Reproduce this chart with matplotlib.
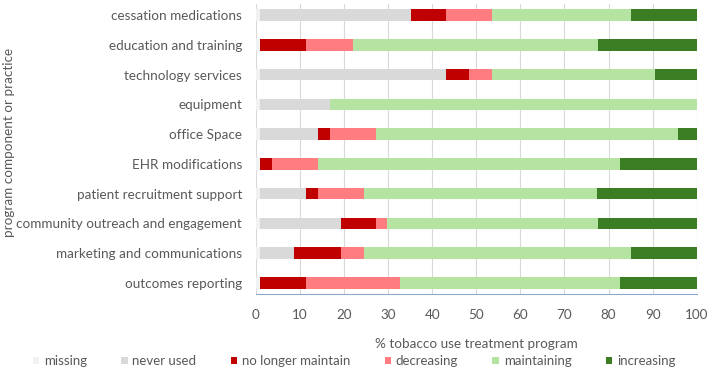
import matplotlib
matplotlib.use("Agg")
import matplotlib.pyplot as plt
import numpy as np

plt.rcParams['font.family'] = ['Lato', 'DejaVu Sans']

categories = ["cessation medications", "education and training", "technology services",
              "equipment", "office Space", "EHR modifications", "patient recruitment support",
              "community outreach and engagement", "marketing and communications",
              "outcomes reporting"]
series_names = ["missing", "never used", "no longer maintain", "decreasing", "maintaining", "increasing"]

missing        = [1.0, 1.0, 1.0, 1.0, 1.0, 1.0, 1.0, 1.0, 1.0, 1.0]
never_used     = [34.2, 0.0, 42.1, 15.8, 13.1, 0.0, 10.3, 18.2, 7.7, 0.0]
no_longer      = [7.9, 10.3, 5.2, 0.0, 2.7, 2.6, 2.8, 8.0, 10.5, 10.3]
decreasing     = [10.5, 10.6, 5.3, 0.0, 10.4, 10.5, 10.5, 2.6, 5.4, 21.4]
maintaining    = [31.6, 55.6, 36.9, 83.2, 68.6, 68.5, 52.7, 47.7, 60.6, 49.9]
increasing     = [14.8, 22.5, 9.5, 0.0, 4.2, 17.4, 22.7, 22.5, 14.8, 17.4]

colors = ["#f2f2f2", "#d9d9d9", "#c00000", "#ff7c80", "#b4e3a2", "#3b7d23"]
data = [missing, never_used, no_longer, decreasing, maintaining, increasing]

fig = plt.figure(figsize=(7.09, 3.72), dpi=100)
ax_w = (696.7 - 256) / 709
ax = fig.add_axes([256/709, 1-294/372, ax_w, (294-4)/372])

y = np.arange(len(categories))
left = np.zeros(len(categories))
handles = []
for name, vals, c in zip(series_names, data, colors):
    v = np.array(vals)
    h = ax.barh(y, v, left=left, height=0.39, color=c, label=name, zorder=3)
    handles.append(h)
    left += v

ax.set_xlim(0, 100)
ax.set_ylim(len(categories) - 1 + 0.37, -0.37)
ax.set_xticks(np.arange(0, 101, 10))
ax.set_yticks(y)
ax.set_yticklabels(categories)
ax.grid(axis='x', color='#d9d9d9', linewidth=0.8, zorder=0)
for s in ['top', 'right', 'left']:
    ax.spines[s].set_visible(False)
ax.spines['bottom'].set_color('#8ea9c8')
ax.tick_params(axis='both', length=0, labelsize=9.75, labelcolor='#595959')
ax.tick_params(axis='y', pad=10)
ax.tick_params(axis='x', pad=11)
ax.set_xlabel("% tobacco use treatment program", fontsize=9.75, color='#595959', labelpad=12)
ax.set_ylabel("program component or practice", fontsize=9.75, color='#595959')
ax.yaxis.set_label_coords(-(256 - 15) / 709 / ax_w, (294 - 142.5) / 290)

fig.legend(handles=handles, labels=series_names, loc='center', bbox_to_anchor=(354/709, 1-361/372),
           ncol=6, frameon=False, fontsize=9.5, handlelength=0.5, handleheight=0.5,
           handletextpad=0.35, columnspacing=2.6, labelcolor='#595959')

fig.savefig("out.png", dpi=100)
